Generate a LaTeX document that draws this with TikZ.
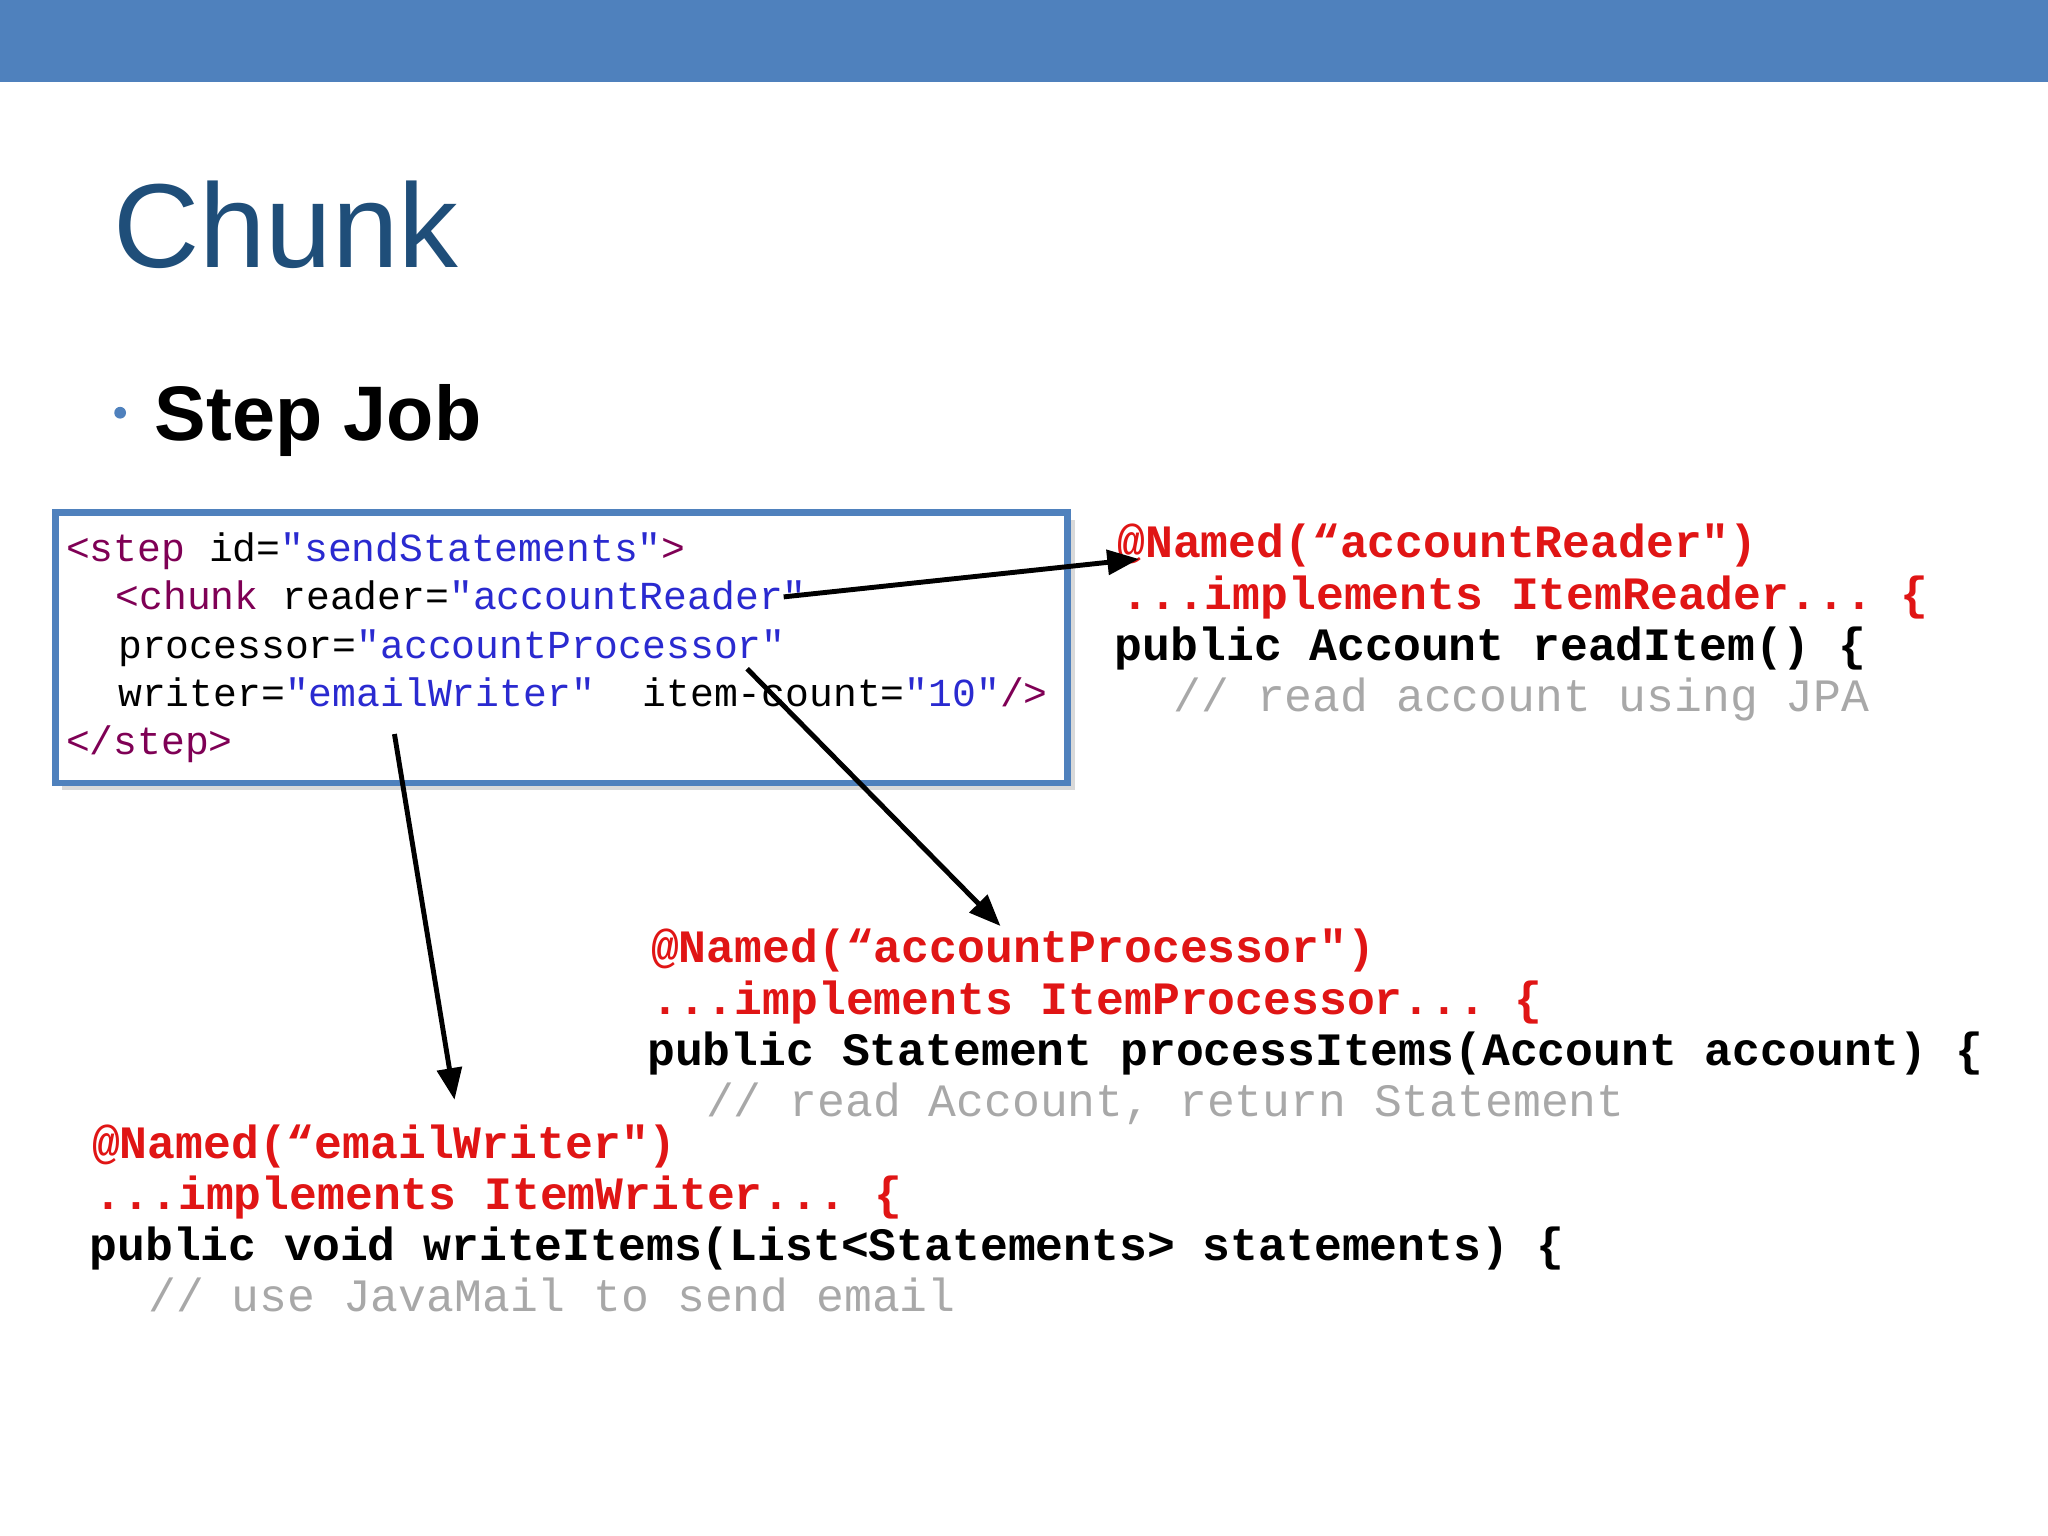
\documentclass[tikz,border=0pt]{standalone}
\usepackage{fontspec}
\setmainfont{Liberation Sans}
\setmonofont{Liberation Mono}
\usetikzlibrary{arrows.meta,shadows}
\definecolor{barblue}{HTML}{4F81BD}
\definecolor{titleblue}{HTML}{1F4E79}
\definecolor{jred}{HTML}{E01515}
\definecolor{jgray}{HTML}{A8A8A8}
\definecolor{xtag}{HTML}{7F0055}
\definecolor{xval}{HTML}{2A2AD0}
\tikzset{
 java/.style={anchor=base west,inner sep=0pt,font=\fontsize{13.2}{14}\ttfamily\bfseries},
 xml/.style={anchor=base west,inner sep=0pt,font=\fontsize{11.3}{13}\ttfamily},
 arr/.style={-{Triangle[length=9pt,width=7pt]},line width=1.4pt}
}
\begin{document}
\begin{tikzpicture}[x=0.013061cm,y=-0.013061cm]
\useasboundingbox (0,0) rectangle (1568,1176);
\fill[barblue] (0,0) rectangle (1568,63);
\node[anchor=base west,inner sep=0pt,text=titleblue,font=\fontsize{34}{40}\selectfont] (title) at (86,205) {Chunk};
\fill[barblue] (92,316) circle (4.5);
\node[anchor=base west,inner sep=0pt,font=\fontsize{22}{26}\selectfont\bfseries] (sub) at (118,337) {Step Job};
\node[draw=barblue,line width=1.8pt,minimum width=775*0.013061cm,minimum height=207*0.013061cm,anchor=north west,fill=white,drop shadow={opacity=0.3,shadow xshift=2pt,shadow yshift=-2pt}] (box) at (40,390) {};
\node[xml] (x1) at (50,430) {\textcolor{xtag}{<step} id=\textcolor{xval}{"sendStatements"}\textcolor{xtag}{>}};
\node[xml] (x2) at (88,467) {\textcolor{xtag}{<chunk} reader=\textcolor{xval}{"accountReader"}};
\node[xml] (x3) at (90,504) {processor=\textcolor{xval}{"accountProcessor"}};
\node[xml] (x4) at (90,541) {writer=\textcolor{xval}{"emailWriter"}\ \ item-count=\textcolor{xval}{"10"}\textcolor{xtag}{/>}};
\node[xml] (x5) at (50,578) {\textcolor{xtag}{</step>}};
% reader
\node[java,text=jred] (r1) at (855,427) {@Named(“accountReader")};
\node[java,text=jred] (r2) at (858,467) {...implements ItemReader... \{};
\node[java] (r3) at (853,506) {public Account readItem() \{};
\node[java,text=jgray,font=\fontsize{13.2}{14}\ttfamily] (r4) at (898,545) {// read account using JPA};
% processor
\node[java,text=jred] (p1) at (498,737) {@Named(“accountProcessor")};
\node[java,text=jred] (p2) at (498,777) {...implements ItemProcessor... \{};
\node[java] (p3) at (495,816) {public Statement processItems(Account account) \{};
\node[java,text=jgray,font=\fontsize{13.2}{14}\ttfamily] (p4) at (540,855) {// read Account, return Statement};
% writer
\node[java,text=jred] (w1) at (70,887) {@Named(“emailWriter")};
\node[java,text=jred] (w2) at (72,926) {...implements ItemWriter... \{};
\node[java] (w3) at (68,965) {public void writeItems(List<Statements> statements) \{};
\node[java,text=jgray,font=\fontsize{13.2}{14}\ttfamily] (w4) at (113,1004) {// use JavaMail to send email};
% arrows
\coordinate (a1s) at (600,457); \coordinate (a1e) at (872,428);
\coordinate (a2s) at (572,512); \coordinate (a2e) at (766,709);
\coordinate (a3s) at (302,562); \coordinate (a3e) at (348,842);
\draw[arr] (a1s) -- (a1e);
\draw[arr] (a2s) -- (a2e);
\draw[arr] (a3s) -- (a3e);
\end{tikzpicture}
\end{document}
